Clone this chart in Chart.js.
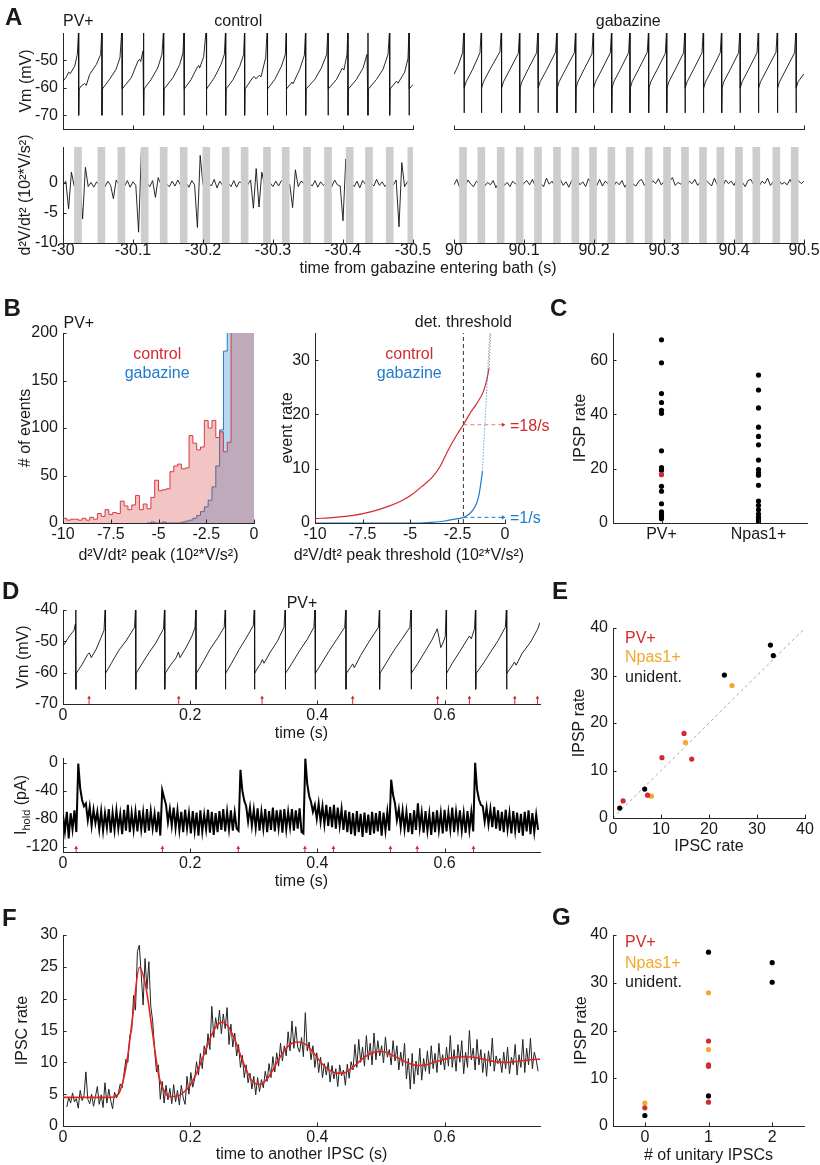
<!DOCTYPE html>
<html>
<head>
<meta charset="utf-8">
<title>IPSP / IPSC figure</title>
<script src="https://cdn.jsdelivr.net/npm/chart.js"></script>
<style>
html,body{margin:0;padding:0;background:#fff;}
body{position:relative;width:820px;height:1165px;overflow:hidden;font-family:"Liberation Sans",Arial,Helvetica,sans-serif;color:#1a1a1a;}
canvas{position:absolute;}
.t{position:absolute;font-size:16px;line-height:1;white-space:nowrap;}
.c{transform:translate(-50%,-50%);}
.l{transform:translateY(-50%);}
.v{transform:translate(-50%,-50%) rotate(-90deg);}
.big{font-size:24px;font-weight:bold;}
</style>
</head>
<body>
<script>
// ================= DATA =================
// ---- Panel A ----
const aTicks = [0, 0.1, 0.2, 0.3, 0.4, 0.5];
const aCtrlLabels = ['-30', '-30.1', '-30.2', '-30.3', '-30.4', '-30.5'];
const aGabLabels = ['90', '90.1', '90.2', '90.3', '90.4', '90.5'];
const vmTicksA = [-70, -60, -50];
const d2vTicks = [-10, -5, 0];
const ctrlBars = [0.0214, 0.0548, 0.0833, 0.1167, 0.1438, 0.1724, 0.2048, 0.2324, 0.2595, 0.2914, 0.3181, 0.3486, 0.3786, 0.4095, 0.4371, 0.4667, 0.4976];
const gabBars = [0.0129, 0.0390, 0.0667, 0.0938, 0.1200, 0.1471, 0.1733, 0.1986, 0.2248, 0.2510, 0.2781, 0.3043, 0.3300, 0.3557, 0.3805, 0.4071, 0.4319, 0.4605, 0.4867];
const ctrlVm = [
[0,-57.6],[0.0048,-56],[0.0081,-54.3],[0.0105,-54.8],[0.0167,-52.1],[0.0205,-47.8],
[0.0224,-38],[0.0224,-70],[0.023,-60.4],
[0.0262,-59.3],[0.031,-58.4],[0.0333,-59.1],[0.0381,-55.1],[0.0476,-51.5],[0.0538,-47.8],
[0.0557,-38],[0.0557,-70],[0.0563,-60.4],
[0.0662,-57],[0.0757,-53.3],[0.0814,-49],
[0.0843,-38],[0.0843,-70],[0.0849,-60.4],
[0.0976,-56.3],[0.1071,-50.2],[0.1095,-49.6],[0.111,-50.4],[0.1143,-46.5],
[0.1152,-38],[0.1152,-70],[0.1158,-60.4],
[0.1257,-57],[0.1352,-52.8],[0.1414,-47.8],
[0.1438,-38],[0.1438,-70],[0.1444,-60.4],
[0.1571,-56.3],[0.1667,-51.5],[0.1714,-47.3],
[0.1729,-38],[0.1729,-70],[0.1735,-60.4],
[0.1829,-57],[0.1924,-52.2],[0.1938,-51.8],[0.1952,-52.8],[0.201,-48.6],
[0.2048,-38],[0.2048,-70],[0.2054,-60.4],
[0.2162,-56.3],[0.2257,-51.5],[0.2305,-47.8],
[0.2324,-38],[0.2324,-70],[0.233,-60.4],
[0.2429,-57],[0.2524,-52.2],[0.2581,-47.8],
[0.2595,-38],[0.2595,-70],[0.2601,-60.4],
[0.271,-56.3],[0.2733,-55.9],[0.2757,-56.7],[0.2805,-55.4],[0.2829,-56],[0.2895,-49],
[0.2919,-38],[0.2919,-70],[0.2925,-60.4],
[0.3024,-57],[0.3119,-52.2],[0.3176,-47.8],
[0.319,-38],[0.319,-70],[0.3196,-60.4],
[0.3271,-57.9],[0.3286,-58.5],[0.3381,-53.3],[0.3448,-48.1],
[0.3467,-38],[0.3467,-70],[0.3473,-60.4],
[0.3595,-57],[0.369,-52.8],[0.3767,-47.8],
[0.3786,-38],[0.3786,-70],[0.3792,-60.4],
[0.3905,-57],[0.399,-52.8],[0.4014,-53.5],[0.4057,-47.8],
[0.4071,-38],[0.4071,-70],[0.4077,-60.4],
[0.419,-57],[0.4286,-52.8],[0.4343,-47.8],
[0.4357,-38],[0.4357,-70],[0.4363,-60.4],
[0.4476,-57],[0.4571,-53.3],[0.4643,-47.8],
[0.4667,-38],[0.4667,-70],[0.4673,-60.4],
[0.4762,-57.6],[0.4786,-58.3],[0.4881,-54.3],[0.4929,-49.2],
[0.4943,-38],[0.4943,-70],[0.4949,-60.4],
[0.5,-58.8]];
const gabVm = [
[0,-55.1],[0.006,-51.8],[0.0123,-47.2],
[0.0143,-38],[0.0143,-69.1],[0.0149,-60],
[0.0173,-57.8],[0.0263,-53.4],[0.0371,-47.2],
[0.0391,-38],[0.0391,-69.1],[0.0397,-60],
[0.0421,-57.8],[0.0511,-53.4],[0.0657,-46.8],
[0.0677,-38],[0.0677,-69.1],[0.0683,-60],
[0.0707,-57.8],[0.0797,-53.4],[0.0919,-47.4],
[0.0939,-38],[0.0939,-69.1],[0.0945,-60],
[0.0969,-57.8],[0.1059,-53.2],[0.118,-47.2],
[0.12,-38],[0.12,-69.1],[0.1206,-60],
[0.123,-57.8],[0.132,-53.6],[0.1451,-47],
[0.1471,-38],[0.1471,-69.1],[0.1477,-60],
[0.1501,-57.8],[0.1591,-53.4],[0.1719,-47.2],
[0.1739,-38],[0.1739,-69.1],[0.1745,-60],
[0.1769,-57.8],[0.1859,-53.2],[0.1971,-47.6],
[0.1991,-38],[0.1991,-69.1],[0.1997,-60],
[0.2021,-57.8],[0.2111,-53.4],[0.2233,-47.2],
[0.2253,-38],[0.2253,-69.1],[0.2259,-60],
[0.2283,-57.8],[0.2373,-53.4],[0.2494,-47.2],
[0.2514,-38],[0.2514,-69.1],[0.252,-60],
[0.2544,-57.8],[0.2634,-53.4],[0.2761,-47],
[0.2781,-38],[0.2781,-69.1],[0.2787,-60],
[0.2811,-57.8],[0.2901,-53.4],[0.3019,-47.4],
[0.3039,-38],[0.3039,-69.1],[0.3045,-60],
[0.3069,-57.8],[0.3159,-53.4],[0.328,-47.2],
[0.33,-38],[0.33,-69.1],[0.3306,-60],
[0.333,-57.8],[0.342,-53.4],[0.3543,-47.2],
[0.3563,-38],[0.3563,-69.1],[0.3569,-60],
[0.3593,-57.8],[0.3683,-53.4],[0.3804,-47.2],
[0.3824,-38],[0.3824,-69.1],[0.383,-60],
[0.3854,-57.8],[0.3944,-53.4],[0.4066,-47.2],
[0.4086,-38],[0.4086,-69.1],[0.4092,-60],
[0.4116,-57.8],[0.4206,-53.4],[0.4329,-47.2],
[0.4349,-38],[0.4349,-69.1],[0.4355,-60],
[0.4379,-57.8],[0.4469,-53.4],[0.46,-47],
[0.462,-38],[0.462,-69.1],[0.4626,-60],
[0.465,-57.8],[0.474,-53.4],[0.4866,-47.2],
[0.4886,-38],[0.4886,-69.1],[0.4892,-60],
[0.4916,-57.8],[0.5,-54.8]];
const d2vDt = 0.004;
const ctrlD2V = [
-0.3,0.3,-4.3,1.8,-0.5,0,0,-6.0,2.6,-0.6,
0.1,-0.7,0.2,-0.4,0,-0.6,0.3,-0.4,-2.6,0.5,
-0.3,0,-0.5,0.4,-0.7,0.2,-0.4,-8.2,5.5,0,
0,-0.6,0.4,-2.4,0.9,-0.3,0,-0.2,-0.6,0.3,
-0.5,0.5,-0.4,0,0,-0.7,0.4,-0.3,-7.4,4.6,
-0.3,0,0,-0.5,0.6,-0.8,0.3,-0.4,0,0,
-0.6,0.4,-0.7,0.2,0,0,-0.3,0.5,-4.2,2.4,
-4.0,1.8,-0.4,0,0,-0.6,0.3,-0.5,0.4,0,
0,-0.3,-4.1,2.2,-0.6,0.3,0,0,0,-0.5,
0.4,-0.7,0.2,-0.4,0,0,-0.6,0.5,-0.3,-0.5,
-6.3,4.0,0,0,-0.6,0.3,-0.8,0.4,-0.2,0,
0,-0.5,0.6,-0.4,0.2,-0.6,0,0,-0.3,0.5,
-7.3,3.4,-0.6,0.2,0,0];
const gabD2V = [
-0.3,0.6,-0.7,0.2,-0.4,0.5,-0.2,-0.6,0.3,-0.1,
0.7,-0.5,0.1,-0.3,0.4,-0.8,0.2,0.9,-0.4,0.1,
-0.6,0.3,-0.2,0.5,-0.7,0.0,0.4,-0.3,0.6,-0.5,
0.2,-0.1,-0.6,0.8,-0.2,0.3,-0.5,0.1,0.6,-0.4,
0.2,-0.7,0.4,-0.1,0.5,-0.3,0.2,-0.6,0.7,-0.2,
0.1,-0.4,0.6,-0.5,0.3,-0.1,0.8,-0.6,0.2,-0.3,
0.4,-0.7,0.1,0.5,-0.2,-0.5,0.3,0.6,-0.4,0.2,
-0.6,0.4,-0.1,0.7,-0.3,0.2,-0.5,0.3,0.9,-0.4,
0.1,-0.2,0.5,-0.6,0.3,-0.1,0.6,-0.4,0.2,-0.7,
0.4,0.0,-0.5,0.8,-0.3,0.2,-0.6,0.5,-0.1,0.3,
-0.4,0.7,-0.2,0.1,-0.6,0.4,0.6,-0.3,0.2,-0.5,
0.3,-0.1,0.8,-0.4,0.2,-0.6,0.5,-0.2,0.1,-0.3,
0.6,-0.5,0.2,0.4,-0.1,0.3];

// ---- Panel B ----
const bXTicks = [-10, -7.5, -5, -2.5, 0];
const bXLabels = ['-10', '-7.5', '-5', '-2.5', '0'];
const histYTicks = [0, 50, 100, 150, 200];
const histEdges = [-10,-9.8,-9.6,-9.4,-9.2,-9,-8.8,-8.6,-8.4,-8.2,-8,-7.8,-7.6,-7.4,-7.2,-7,-6.8,-6.6,-6.4,-6.2,-6,-5.8,-5.6,-5.4,-5.2,-5,-4.8,-4.6,-4.4,-4.2,-4,-3.8,-3.6,-3.4,-3.2,-3,-2.8,-2.6,-2.4,-2.2,-2,-1.8,-1.6,-1.4,-1.2,-1,-0.8,-0.6,-0.4,-0.2,0];
const histCtrl = [5,3,4,4,3,5,3,6,4,10, 7,14,9,11,10,23,18,14,19,29, 14,20,15,27,45,34,35,36,54,60, 62,57,58,92,84,77,80,108,100,108, 90,96,75,85,400,400,400,400,400,400];
const histGabStart = 22; // first bin edge index drawn for gabazine
const histGab = [0,1,0,0,1,0,0,0,0, 1,2,3,5,8,12,17,24,38,60,98,181, 400,400,400,400,400,400,400];
const rateYTicks = [0, 10, 20, 30];
const detThreshold = -2.19;
const ctrlThr = [-10,-8.95,-8.07,-7.02,-6.14,-5.44,-4.91,-4.39,-3.86,-3.42,-2.98,-2.54,-2.19,-1.84,-1.49,-1.14,-0.96,-0.84];
const ctrlRate = [0.8,1.04,1.35,2.1,3.06,4.1,5.2,6.7,8.3,10.4,13.5,16.2,18.1,20.2,22,24.2,26.3,28.5];
const ctrlRateTail = [[-0.84,28.5],[-0.74,36]];
const gabThr = [-10,-4.5,-3.86,-3.16,-2.63,-2.19,-1.93,-1.67,-1.49,-1.37,-1.26,-1.19];
const gabRate = [0,0,0.12,0.37,0.73,1.04,1.53,2.45,3.67,5.2,7.65,9.5];
const gabRateTail = [[-1.19,9.5],[-0.79,36]];
const ctrlRateAtThr = 18.1, gabRateAtThr = 1.04, arrowEnd = -0.1;

// ---- Panel C ----
const cCats = ['PV+', 'Npas1+'];
const cYTicks = [0, 20, 40, 60];
const pvIPSP = [67.5,59,47.7,44.4,41.5,40.4,26.6,20.4,19.3,13.5,11.7,7.1,4.1,3.1,2.2,1.6];
const pvIPSPExample = [17.8];
const npasIPSP = [54.5,49,42.4,35.3,31.9,28.8,23.2,19.7,18.5,17.6,13.9,8.1,6.5,4.9,3.3,2.1,1.2,0.5];

// ---- Panel D ----
const dXTicks = [0, 0.2, 0.4, 0.6];
const dVmTicks = [-70, -60, -50, -40];
const dIhTicks = [-120, -80, -40, 0];
const dVm = [
[0,-51.6],[0.006,-49.6],[0.012,-47.8],[0.017,-46.6],[0.0195,-44.5],
[0.0202,-38],[0.0202,-65.3],[0.0209,-60.2],
[0.03,-57.4],[0.039,-54.1],[0.0415,-53.7],[0.0445,-55.2],[0.052,-52.6],[0.059,-49.2],[0.0645,-46.5],
[0.0665,-38],[0.0665,-65.3],[0.0672,-60.2],
[0.076,-57],[0.088,-52.8],[0.1,-49.6],[0.1125,-45.5],
[0.1144,-38],[0.1144,-65.3],[0.1151,-60.2],
[0.124,-57.2],[0.136,-53.4],[0.146,-50.5],[0.158,-46],
[0.16,-38],[0.16,-65.3],[0.1607,-60.2],
[0.17,-57.3],[0.178,-55.2],[0.1815,-53.4],[0.184,-55.2],[0.194,-51.8],[0.203,-48.2],[0.2075,-45.6],
[0.2091,-38],[0.2091,-65.3],[0.2098,-60.2],
[0.219,-57],[0.231,-52.6],[0.243,-49],[0.2535,-45.5],
[0.2553,-38],[0.2553,-65.3],[0.256,-60.2],
[0.265,-57],[0.277,-52.6],[0.289,-48.6],[0.2992,-45],
[0.301,-38],[0.301,-65.3],[0.3017,-60.2],
[0.307,-58.2],[0.311,-57],[0.3135,-55.8],[0.316,-57],[0.326,-53.4],[0.337,-50],[0.3475,-45.5],
[0.3495,-38],[0.3495,-65.3],[0.3502,-60.2],
[0.36,-57],[0.372,-53],[0.384,-49.4],[0.3945,-45.5],
[0.3964,-38],[0.3964,-65.3],[0.3971,-60.2],
[0.406,-57.2],[0.418,-53.2],[0.43,-49.5],[0.443,-45.5],
[0.4449,-38],[0.4449,-65.3],[0.4456,-60.2],
[0.452,-58.3],[0.4555,-57.2],[0.458,-58.4],[0.468,-54.5],[0.48,-50.5],[0.496,-45.5],
[0.4978,-38],[0.4978,-65.3],[0.4985,-60.2],
[0.508,-57],[0.52,-53],[0.532,-49.5],[0.5455,-45.5],
[0.5474,-38],[0.5474,-65.3],[0.5481,-60.2],
[0.558,-57],[0.57,-53],[0.58,-49.6],[0.5885,-46],[0.591,-48.6],[0.594,-52],[0.598,-50.2],[0.601,-48.5],
[0.6027,-38],[0.6027,-65.3],[0.6034,-60.2],
[0.612,-57],[0.624,-53.2],[0.635,-49.6],[0.639,-48.3],[0.642,-49.2],[0.647,-46],
[0.6489,-38],[0.6489,-65.3],[0.6496,-60.2],
[0.66,-57.3],[0.672,-53.5],[0.684,-49.8],[0.6955,-45.5],
[0.6974,-38],[0.6974,-65.3],[0.6981,-60.2],
[0.705,-58.2],[0.71,-56.6],[0.7125,-57.6],[0.722,-53.8],[0.735,-50.3],[0.746,-46.2],[0.75,-44]];
const dVmIPSPTimes = [0.041, 0.182, 0.313, 0.4555, 0.589, 0.639, 0.7104, 0.746];
const ihDt = 0.003;
const ihold = [
-75,-98,-70,-108,-72,-95,-68,-99,-1,-36,
-53,-62,-58,-82,-63,-90,-67,-86,-70,-95,
-69,-97,-72,-93,-66,-100,-71,-96,-68,-94,
-73,-102,-67,-97,-60,-99,-72,-96,-70,-98,
-68,-95,-71,-100,-66,-97,-69,-94,-73,-99,
-70,-104,-39,-50,-60,-85,-66,-90,-64,-93,
-68,-96,-70,-99,-67,-94,-72,-101,-69,-97,
-71,-104,-68,-98,-74,-95,-67,-100,-70,-103,
-72,-99,-69,-96,-66,-98,-70,-95,-68,-97,
-71,-94,-97,-10,-40,-54,-62,-84,-64,-90,
-67,-93,-65,-97,-70,-94,-66,-99,-69,-96,
-64,-98,-68,-93,-67,-100,-66,-95,-70,-92,
-66,-97,-68,-94,-65,-99,-101,6,-30,-47,
-56,-70,-60,-80,-58,-84,-62,-88,-60,-90,
-63,-92,-60,-94,-64,-90,-66,-96,-68,-99,
-70,-102,-72,-104,-69,-99,-73,-106,-71,-100,
-74,-103,-70,-101,-72,-98,-69,-104,-71,-97,
-70,-97,-24,-46,-58,-82,-66,-92,-68,-95,
-70,-99,-72,-102,-68,-96,-58,-93,-71,-100,
-69,-97,-73,-103,-70,-99,-68,-96,-72,-101,
-67,-98,-71,-95,-64,-99,-70,-94,-68,-97,
-72,-100,-69,-96,-70,-98,0,-38,-52,-60,
-62,-84,-64,-88,-66,-92,-63,-94,-68,-97,
-70,-99,-67,-95,-72,-101,-69,-97,-71,-100,
-73,-104,-70,-98,-68,-102,-72,-99,-74,-96];
const ihIPSCTimes = [0.0207, 0.1563, 0.2756, 0.3804, 0.4252, 0.5148, 0.5569, 0.6454];

// ---- Panel E ----
const eTicks = [0, 10, 20, 30, 40];
const eUnidentIPSC = [1.4, 6.6, 23.2, 32.8, 33.4];
const eUnidentIPSP = [2.1, 6.1, 30.1, 36.4, 34.2];
const ePvIPSC = [2.1, 7.2, 10.2, 14.8, 16.4];
const ePvIPSP = [3.6, 4.8, 12.7, 17.8, 12.4];
const eNpasIPSC = [8.0, 15.1, 24.8];
const eNpasIPSP = [4.6, 15.9, 27.9];
const identityLine = [0, 40];

// ---- Panel F ----
const fXTicks = [0, 0.2, 0.4, 0.6];
const fYTicks = [0, 5, 10, 15, 20, 25, 30];
const fT0 = 0.006, fDt = 0.003;
const ipscRate = [
3.0,4.5,3.6,5.2,3.8,4.3,2.8,5.6,4.0,4.8,
8.5,4.2,3.5,5.0,3.1,4.6,6.2,3.4,4.9,2.9,
6.8,3.6,5.8,4.0,2.7,5.3,4.4,5.1,6.6,6.0,
8.3,10.5,10.0,14.2,15.0,20.5,18.2,27.4,28.4,23.8,
19.0,26.3,21.5,25.8,18.8,16.5,12.0,8.5,9.6,4.2,
7.0,3.6,6.4,4.1,5.9,3.5,6.5,3.8,5.6,3.3,
6.4,4.4,3.4,7.8,5.0,8.4,6.1,7.4,10.1,8.0,
11.4,9.0,12.6,11.2,14.5,12.0,18.8,13.9,17.0,15.2,
18.2,14.5,17.6,15.3,18.6,12.8,16.0,12.4,14.6,11.0,
12.8,9.2,11.1,7.6,9.6,6.8,8.3,5.8,7.8,4.9,
7.6,5.4,7.3,6.0,8.6,7.0,9.8,7.6,10.9,8.5,
11.5,9.4,13.0,10.2,12.6,11.0,14.8,11.8,16.5,12.2,
15.6,12.4,11.6,13.9,10.9,17.8,11.8,13.2,10.4,12.6,
9.2,11.5,8.4,10.8,7.6,9.8,8.0,10.0,6.9,9.5,
7.4,9.0,6.2,9.6,7.9,8.8,6.4,9.7,7.5,10.1,
8.8,12.8,9.2,13.6,10.0,12.4,9.4,14.2,10.4,13.0,
9.6,14.6,10.4,13.4,11.0,12.6,9.9,14.0,10.8,12.0,
9.6,13.4,10.2,12.6,8.8,11.6,9.4,13.0,7.4,10.6,
5.8,11.4,6.6,10.2,8.0,12.2,7.2,10.6,8.6,11.8,
8.2,12.6,9.0,11.4,8.4,13.0,9.6,11.2,8.8,12.4,
9.4,14.2,9.2,12.0,8.6,12.8,10.0,13.4,8.2,11.6,
9.2,15.0,10.4,12.2,8.8,13.6,9.6,12.0,8.4,11.4,
7.8,11.8,9.4,13.8,8.6,11.0,9.8,10.6,8.4,11.6,
9.0,12.4,8.2,10.8,9.6,12.8,8.0,11.2,9.2,13.6,
8.4,12.2,9.6,13.8,9.0,11.6,10.4,8.6];
const fitDt = 0.01;
const ipscFit = [
4.5,4.5,4.5,4.5,4.5,4.5,4.5,4.5,4.55,5.6,
9.8,17.5,24.9,22.0,15.2,8.2,5.3,4.6,4.7,5.3,
6.4,8.3,10.8,13.4,15.5,16.3,15.6,13.6,10.9,8.4,
6.8,6.5,7.3,8.8,10.6,12.1,13.0,13.2,12.9,12.0,
10.7,9.5,8.7,8.3,8.3,8.8,9.6,10.5,11.2,11.6,
11.7,11.5,11.0,10.5,10.0,9.6,9.5,9.6,9.9,10.2,
10.5,10.7,10.85,10.9,10.85,10.7,10.5,10.3,10.1,10.0,
10.0,10.1,10.2,10.35,10.45,10.5];

// ---- Panel G ----
const gXTicks = [0, 1, 2];
const gUnidentN = [0, 1, 1, 2, 2];
const gUnidentIPSP = [2.2, 36.4, 6.3, 34.2, 30.1];
const gPvN = [0, 1, 1, 1, 1];
const gPvIPSP = [3.8, 17.8, 12.8, 12.5, 5.0];
const gNpasN = [0, 1, 1];
const gNpasIPSP = [4.8, 27.9, 16.0];

// ================= STYLE / HELPERS =================
const RED = '#d22a2f', BLUE = '#1f7bcc', ORANGE = '#f6a62b', AX = '#262626', INK = '#1a1a1a';
const FONT = '"Liberation Sans", Arial, Helvetica, sans-serif';
Chart.defaults.font.family = FONT;
Chart.defaults.font.size = 16;
Chart.defaults.color = INK;

const pairsXY = a => a.map(p => ({x: p[0], y: p[1]}));
const zipXY = (xs, ys) => xs.map((x, i) => ({x, y: ys[i]}));
const sampled = (vals, t0, dt) => vals.map((v, i) => ({x: t0 + i * dt, y: v}));
const stepData = (edges, counts) => counts.map((c, i) => ({x: edges[i], y: c})).concat([{x: edges[counts.length], y: counts[counts.length - 1]}]);

const inTicks = {
  id: 'inTicks',
  afterDraw(chart) {
    const {ctx, chartArea: a} = chart;
    ctx.save();
    ctx.strokeStyle = AX; ctx.lineWidth = 1;
    Object.values(chart.scales).forEach(s => {
      if (!s.options.border.display) return;
      s.ticks.forEach(t => {
        const p = s.getPixelForValue(t.value);
        ctx.beginPath();
        if (s.isHorizontal()) {
          const x = Math.round(p) + 0.5;
          ctx.moveTo(x, a.bottom); ctx.lineTo(x, a.bottom - 3.5);
        } else {
          const y = Math.round(p) + 0.5;
          ctx.moveTo(a.left, y); ctx.lineTo(a.left + 3.5, y);
        }
        ctx.stroke();
      });
    });
    ctx.restore();
  }
};

function line(data, color, extra) {
  return Object.assign({type: 'scatter', data, showLine: true, pointRadius: 0, borderColor: color,
    backgroundColor: color, borderWidth: 1, fill: false, order: 1, spanGaps: false}, extra || {});
}
function dots(data, color, extra) {
  return Object.assign({type: 'scatter', data, showLine: false, pointRadius: 2.6, pointBorderWidth: 0,
    backgroundColor: color, borderColor: color, order: 0}, extra || {});
}
function grayBars(times, lo, hi) {
  return {type: 'bar', data: times.map(t => ({x: t, y: [lo, hi]})), backgroundColor: '#cdcdcd',
    borderWidth: 0, barThickness: 7, grouped: false, order: 0};
}
function arrows(times, yBase, yTip, color) {
  const shafts = [];
  times.forEach(t => { shafts.push({x: t, y: yBase}, {x: t, y: yTip}, {x: t, y: null}); });
  return [
    line(shafts, color, {borderWidth: 1, order: 0}),
    dots(times.map(t => ({x: t, y: yTip})), color, {pointStyle: 'triangle', pointRadius: 2.2})
  ];
}

function panel(b, xo, yo, datasets) {
  const cl = Math.round(b.yt !== undefined ? b.yt - 9.6 : b.L - 45);
  const ct = b.T - 14;
  const cr = b.R + 32;
  const cb = Math.round(b.xt !== undefined ? b.xt + 9.6 : b.B + 28);
  const cv = document.createElement('canvas');
  cv.width = cr - cl; cv.height = cb - ct;
  cv.style.left = cl + 'px'; cv.style.top = ct + 'px';
  document.body.appendChild(cv);
  const mk = (o, isX) => ({
    type: 'linear', min: o.min, max: o.max, offset: false, display: true,
    grid: {display: false, drawTicks: false},
    border: {display: o.line !== false, color: AX, width: 1},
    ticks: {
      display: !!o.labels, padding: o.pad !== undefined ? o.pad : (isX ? 3.5 : 5),
      autoSkip: false, maxRotation: 0, minRotation: 0, color: INK,
      font: {size: 16, lineHeight: 1},
      callback: (v, i) => o.labels === true ? String(v) : (o.labels ? o.labels[i] : '')
    },
    title: o.title ? {display: true, text: o.title, color: INK, font: {size: 16, lineHeight: 1.2}, padding: 0} : {display: false},
    afterBuildTicks: s => { s.ticks = (o.ticks || []).map(v => ({value: v})); },
    afterFit: s => { if (isX) s.height = cb - b.B; else s.width = b.L - cl; }
  });
  return new Chart(cv, {
    type: 'scatter',
    data: {datasets},
    options: {
      responsive: false, animation: false, devicePixelRatio: 1, events: [],
      layout: {padding: {left: 0, top: b.T - ct, right: cr - b.R, bottom: 0}},
      scales: {x: mk(xo, true), y: mk(yo, false)},
      plugins: {legend: {display: false}, tooltip: {enabled: false}}
    },
    plugins: [inTicks]
  });
}

function txt(html, x, y, cls, color, size) {
  const d = document.createElement('div');
  d.className = 't ' + cls;
  d.style.left = x + 'px'; d.style.top = y + 'px';
  if (color) d.style.color = color;
  if (size) d.style.fontSize = size + 'px';
  d.innerHTML = html;
  document.body.appendChild(d);
}

const VMW = 0.9;

// ================= PANEL A =================
panel({L: 63, T: 33, R: 413, B: 129, yt: 27},
  {min: 0, max: 0.5, ticks: aTicks},
  {min: -75, max: -40, ticks: vmTicksA, labels: true, title: 'Vm (mV)'},
  [line(pairsXY(ctrlVm), '#111', {borderWidth: VMW})]);
panel({L: 63, T: 147, R: 413, B: 243, yt: 26},
  {min: 0, max: 0.5, ticks: aTicks, labels: aCtrlLabels, pad: 0},
  {min: -10, max: 6, ticks: d2vTicks, labels: true, title: 'd\u00b2V/dt\u00b2 (10\u00b2*V/s\u00b2)'},
  [grayBars(ctrlBars, -10, 6), line(sampled(ctrlD2V, 0, d2vDt), '#111', {borderWidth: VMW})]);
panel({L: 454, T: 33, R: 804, B: 129},
  {min: 0, max: 0.5, ticks: aTicks},
  {min: -75, max: -40, ticks: vmTicksA, line: false},
  [line(pairsXY(gabVm), '#111', {borderWidth: VMW})]);
panel({L: 454, T: 147, R: 804, B: 243},
  {min: 0, max: 0.5, ticks: aTicks, labels: aGabLabels, pad: 0},
  {min: -10, max: 6, ticks: d2vTicks, line: false},
  [grayBars(gabBars, -10, 6), line(sampled(gabD2V, 0, d2vDt), '#111', {borderWidth: VMW})]);

// ================= PANEL B =================
panel({L: 63, T: 333, R: 254, B: 523, yt: 26, xt: 555},
  {min: -10, max: 0, ticks: bXTicks, labels: bXLabels, title: 'd\u00b2V/dt\u00b2 peak (10\u00b2*V/s\u00b2)'},
  {min: 0, max: 200, ticks: histYTicks, labels: true, title: '# of events'},
  [line(stepData(histEdges.slice(histGabStart), histGab), '#2a78c0',
        {stepped: 'before', fill: 'origin', backgroundColor: 'rgba(40,150,220,0.35)', order: 3}),
   line(stepData(histEdges, histCtrl), '#d83a40',
        {stepped: 'before', fill: 'origin', backgroundColor: 'rgba(214,60,60,0.30)', order: 2})]);
panel({L: 315, T: 333, R: 505, B: 523, yt: 287.5},
  {min: -10, max: 0, ticks: bXTicks, labels: bXLabels},
  {min: 0, max: 35, ticks: rateYTicks, labels: true, title: 'event rate'},
  [line([{x: detThreshold, y: 0}, {x: detThreshold, y: 35}], '#333', {borderDash: [4, 3], order: 5}),
   line(zipXY(gabThr, gabRate), BLUE, {cubicInterpolationMode: 'monotone', borderWidth: 1.2}),
   line(pairsXY(gabRateTail), BLUE, {borderDash: [1, 2]}),
   line(zipXY(ctrlThr, ctrlRate), RED, {cubicInterpolationMode: 'monotone', borderWidth: 1.2}),
   line(pairsXY(ctrlRateTail), RED, {borderDash: [1, 2]}),
   line([{x: detThreshold, y: ctrlRateAtThr}, {x: arrowEnd, y: ctrlRateAtThr}], 'rgba(225,80,80,0.75)', {borderDash: [4, 3]}),
   dots([{x: arrowEnd, y: ctrlRateAtThr}], RED, {pointStyle: 'triangle', rotation: 90, pointRadius: 2.4}),
   line([{x: detThreshold, y: gabRateAtThr}, {x: arrowEnd, y: gabRateAtThr}], BLUE, {borderDash: [4, 3]}),
   dots([{x: arrowEnd, y: gabRateAtThr}], BLUE, {pointStyle: 'triangle', rotation: 90, pointRadius: 2.4})]);

// ================= PANEL C =================
panel({L: 613, T: 333, R: 807, B: 523, yt: 581},
  {min: 0.5, max: 2.5, ticks: [1, 2], labels: cCats},
  {min: 0, max: 70, ticks: cYTicks, labels: true, title: 'IPSP rate'},
  [dots(pvIPSP.map(v => ({x: 1, y: v})), '#000'),
   dots(npasIPSP.map(v => ({x: 2, y: v})), '#000'),
   dots(pvIPSPExample.map(v => ({x: 1, y: v})), RED, {order: -1})]);

// ================= PANEL D =================
panel({L: 63, T: 610, R: 540, B: 704, yt: 24, xt: 733.3},
  {min: 0, max: 0.75, ticks: dXTicks, labels: true, title: 'time (s)'},
  {min: -70, max: -40, ticks: dVmTicks, labels: true, title: 'Vm (mV)'},
  [line(pairsXY(dVm), '#111', {borderWidth: VMW}), ...arrows(dVmIPSPTimes, -70, -68, RED)]);
panel({L: 63, T: 758, R: 540, B: 852, xt: 881.7},
  {min: 0, max: 0.75, ticks: dXTicks, labels: true, title: 'time (s)'},
  {min: -127.5, max: 7, ticks: dIhTicks, labels: true},
  [line(sampled(ihold, 0, ihDt), '#000', {borderWidth: 2}), ...arrows(ihIPSCTimes, -127.5, -121.5, RED)]);

// ================= PANEL E =================
panel({L: 613, T: 628, R: 805, B: 818, yt: 580, xt: 846.7},
  {min: 0, max: 40, ticks: eTicks, labels: true, title: 'IPSC rate'},
  {min: 0, max: 40, ticks: eTicks, labels: true, title: 'IPSP rate'},
  [line(zipXY(identityLine, identityLine), '#a8a8a8', {borderDash: [3, 3], order: 5}),
   dots(zipXY(eUnidentIPSC, eUnidentIPSP), '#000'),
   dots(zipXY(ePvIPSC, ePvIPSP), RED),
   dots(zipXY(eNpasIPSC, eNpasIPSP), ORANGE)]);

// ================= PANEL F =================
panel({L: 63, T: 935, R: 540, B: 1126, yt: 23, xt: 1154},
  {min: 0, max: 0.75, ticks: fXTicks, labels: true, title: 'time to another IPSC (s)'},
  {min: 0, max: 30, ticks: fYTicks, labels: true, title: 'IPSC rate'},
  [line(sampled(ipscRate, fT0, fDt), '#222', {order: 2}),
   line(sampled(ipscFit, 0, fitDt), '#e02424', {cubicInterpolationMode: 'monotone', borderWidth: 1.6, order: 1})]);

// ================= PANEL G =================
panel({L: 613, T: 935, R: 804, B: 1126, yt: 581.7, xt: 1155},
  {min: -0.5, max: 2.5, ticks: gXTicks, labels: true, title: '# of unitary IPSCs'},
  {min: 0, max: 40, ticks: eTicks, labels: true, title: 'IPSP rate'},
  [dots(zipXY(gUnidentN, gUnidentIPSP), '#000'),
   dots(zipXY(gPvN, gPvIPSP), RED),
   dots(zipXY(gNpasN, gNpasIPSP), ORANGE)]);

// ================= TEXT =================
txt('A', 5, 16.5, 'l big');
txt('B', 3.5, 307.5, 'l big');
txt('C', 550, 308, 'l big');
txt('D', 2, 591, 'l big');
txt('E', 552, 591, 'l big');
txt('F', 2, 918, 'l big');
txt('G', 552, 916.7, 'l big');

txt('PV+', 63, 20.5, 'l');
txt('control', 238.3, 20.5, 'c');
txt('gabazine', 628.3, 20.5, 'c');
txt('time from gabazine entering bath (s)', 428, 268, 'c');

txt('PV+', 63.5, 323.3, 'l');
txt('control', 157.3, 354, 'c', RED);
txt('gabazine', 157.2, 373, 'c', BLUE);
txt('det. threshold', 463.3, 321.7, 'c');
txt('control', 409.3, 354.3, 'c', RED);
txt('gabazine', 409.3, 373.3, 'c', BLUE);
txt('=18/s', 510, 425.5, 'l', RED);
txt('=1/s', 510, 517.7, 'l', BLUE);
txt('d\u00b2V/dt\u00b2 peak threshold (10\u00b2*V/s\u00b2)', 409, 555, 'c');

txt('PV+', 302, 602.5, 'c');
txt('I<span style="font-size:11px;position:relative;top:4px">hold</span> (pA)', 21, 805, 'v');

txt('PV+', 625, 638, 'l', RED);
txt('Npas1+', 625, 657, 'l', ORANGE);
txt('unident.', 625, 676.5, 'l');

txt('PV+', 625, 941.7, 'l', RED);
txt('Npas1+', 625, 962.5, 'l', ORANGE);
txt('unident.', 625, 982, 'l');
</script>
</body>
</html>
